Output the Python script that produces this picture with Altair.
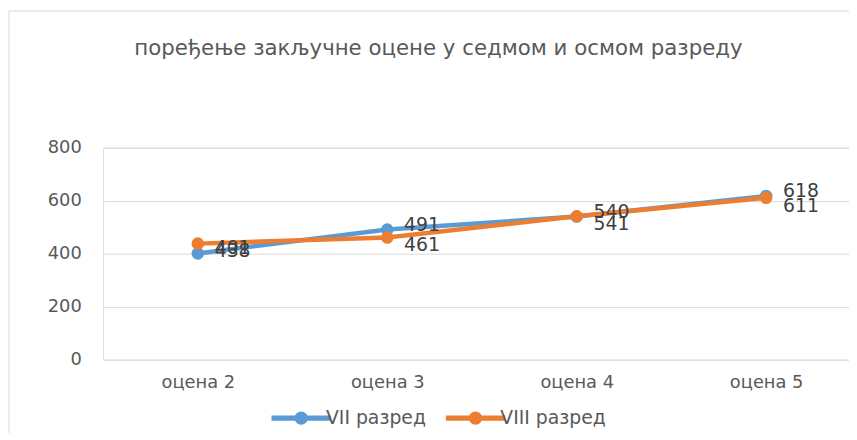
import altair as alt
import pandas as pd

categories = ["оцена 2", "оцена 3", "оцена 4", "оцена 5"]
series_names = ["VII разред", "VIII разред"]
vii_values = [401, 491, 540, 618]
viii_values = [438, 461, 541, 611]
y_ticks = [0, 200, 400, 600, 800]

rows = []
for c, v in zip(categories, vii_values):
    rows.append({"cat": c, "series": series_names[0], "value": v})
for c, v in zip(categories, viii_values):
    rows.append({"cat": c, "series": series_names[1], "value": v})
df = pd.DataFrame(rows)

FONT = "DejaVu Sans"
colors = ["#5B9BD5", "#ED7D31"]

legend_symbol = ("M -2 -0.17 L 2 -0.17 L 2 0.17 L -2 0.17 Z "
                 "M 0.45 0 A 0.45 0.45 0 1 1 -0.45 0 A 0.45 0.45 0 1 1 0.45 0 Z")

x_enc = alt.X("cat:N", sort=categories,
              scale=alt.Scale(domain=categories, range=[0, 765], paddingInner=0, paddingOuter=0),
              axis=alt.Axis(title=None, labelAngle=0, labelFontSize=18, labelColor="#595959",
                            labelFont=FONT, ticks=False, domain=False, grid=False,
                            labelPadding=14, bandPosition=0.5))
y_enc = alt.Y("value:Q", scale=alt.Scale(domain=[0, 800], nice=False),
              axis=alt.Axis(title=None, values=y_ticks, labelFontSize=18, labelColor="#595959",
                            labelFont=FONT, ticks=False, domain=False, gridColor="#d9d9d9",
                            gridWidth=1, labelPadding=22))
color_enc = alt.Color("series:N", sort=series_names,
                      scale=alt.Scale(domain=series_names, range=colors),
                      legend=alt.Legend(title=None, orient="none", legendX=185, legendY=258,
                                        direction="horizontal", symbolType=legend_symbol,
                                        symbolSize=900, symbolStrokeWidth=0,
                                        labelFontSize=19, labelColor="#595959", labelFont=FONT,
                                        columnPadding=20, labelOffset=10))

base = alt.Chart(df)

line = base.mark_line(strokeWidth=4.5).encode(x=x_enc, y=y_enc, color=color_enc,
                                                detail="series:N")
points = base.mark_circle(size=160, opacity=1).encode(x=x_enc, y=y_enc, color=alt.Color("series:N", sort=series_names, scale=alt.Scale(domain=series_names, range=colors), legend=None))

lab_vii = base.transform_filter(alt.datum.series == series_names[0]).mark_text(
    align="left", baseline="middle", dx=17, dy=-5, fontSize=19, color="#404040", font=FONT
).encode(x=x_enc, y=y_enc, text="value:Q")
lab_viii = base.transform_filter(alt.datum.series == series_names[1]).mark_text(
    align="left", baseline="middle", dx=17, dy=8, fontSize=19, color="#404040", font=FONT
).encode(x=x_enc, y=y_enc, text="value:Q")

border = alt.Chart(pd.DataFrame({"a": [0]})).mark_rect(
    fill=None, stroke="#d9d9d9", strokeWidth=1
).encode(x=alt.value(-95), x2=alt.value(760), y=alt.value(-138), y2=alt.value(300))

chart = alt.layer(border, line, points, lab_vii, lab_viii).properties(
    width=753, height=214,
    title=alt.TitleParams(text="поређење закључне оцене у седмом и осмом разреду",
                          fontSize=21.5, font=FONT, color="#595959", fontWeight="normal",
                          anchor="middle", dx=-38, offset=-49),
    padding={"left": 96, "top": 139, "right": 0, "bottom": 72},
    autosize="none",
).configure_view(stroke=None).configure(background="white")

chart.save("out.html", embed_options={"renderer": "svg", "actions": False})
